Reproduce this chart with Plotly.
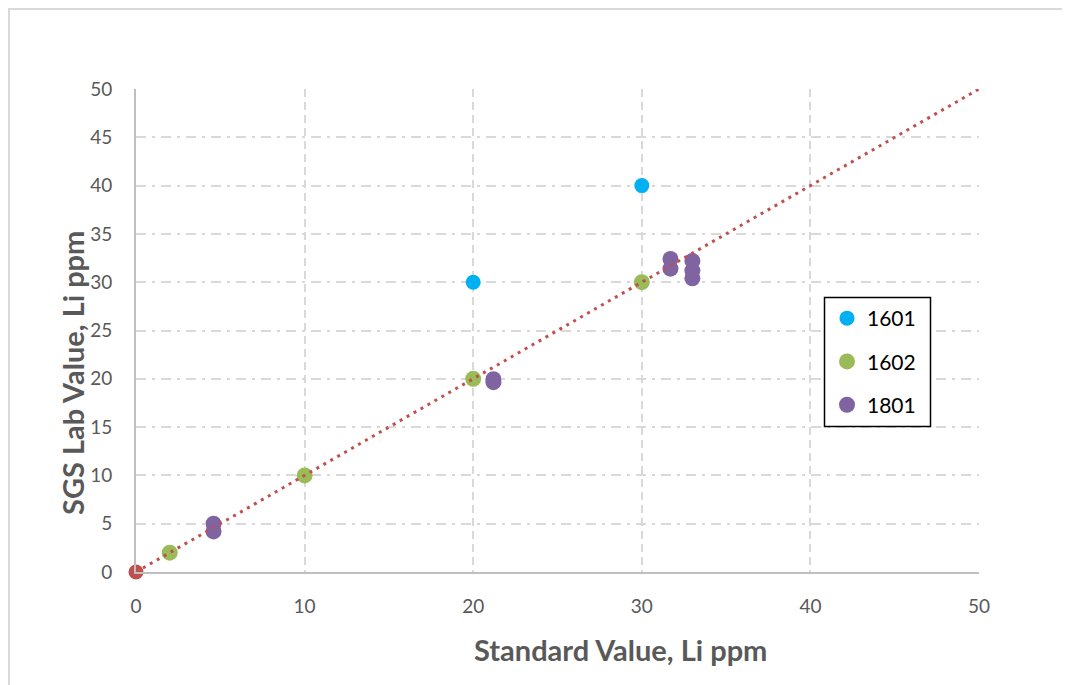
import plotly.graph_objects as go

# Data
s1601_x = [20, 30]
s1601_y = [30, 40]
s1602_x = [2, 10, 20, 30]
s1602_y = [2, 10, 20, 30]
s1801_x = [4.6, 4.6, 21.2, 21.2, 31.7, 31.7, 33.0, 33.0, 33.0]
s1801_y = [5.0, 4.2, 19.65, 19.95, 32.4, 31.4, 32.2, 31.2, 30.4]
line_x = [0, 50]
line_y = [0, 50]
origin_x = [0]
origin_y = [0]
x_title = "Standard Value, Li ppm"
y_title = "SGS Lab Value, Li ppm"

FONT = "Lato"
TXT = "#595959"

fig = go.Figure()
fig.add_trace(go.Scatter(x=s1601_x, y=s1601_y, mode="markers", name="1601", cliponaxis=False,
                         marker=dict(color="#00B0F0", size=15, line=dict(width=0)),
                         legendgroup="a"))
fig.add_trace(go.Scatter(x=s1602_x, y=s1602_y, mode="markers", name="1602", cliponaxis=False,
                         marker=dict(color="#9BBB59", size=16, line=dict(width=0)),
                         legendgroup="b"))
fig.add_trace(go.Scatter(x=s1801_x, y=s1801_y, mode="markers", name="1801", cliponaxis=False,
                         marker=dict(color="#8064A2", size=16, line=dict(width=0)),
                         legendgroup="c"))
fig.add_trace(go.Scatter(x=origin_x, y=origin_y, mode="markers", showlegend=False, cliponaxis=False,
                         marker=dict(color="#C0504D", size=15, line=dict(width=0))))
fig.add_trace(go.Scatter(x=line_x, y=line_y, mode="lines", showlegend=False,
                         line=dict(color="#C0504D", width=3, dash="3px,5px")))

# screen pixel layout (page body has an 8px margin)
OFF = 8
L, R, T, B = 136, 979, 89, 572
W, H = 1070 - OFF, 685 - OFF
pw, ph = R - L, B - T

def px2x(p):
    return (p - L) / pw

def py2y(p):
    return (B - p) / ph

fig.update_layout(
    width=W, height=H,
    margin=dict(l=L - OFF, r=W - (R - OFF), t=T - OFF, b=H - (B - OFF), autoexpand=False),
    paper_bgcolor="white", plot_bgcolor="white",
    font=dict(family=FONT, color=TXT, size=18),
    showlegend=True,
    legend=dict(x=px2x(827), y=py2y(298), xanchor="left", yanchor="top",
                borderwidth=0, bgcolor="rgba(0,0,0,0)",
                font=dict(family=FONT, size=21, color="black"),
                tracegroupgap=13, traceorder="grouped",
                itemwidth=30),
    xaxis=dict(range=[0, 50], dtick=10, showline=True, linecolor="#BFBFBF", linewidth=2,
               showgrid=True, gridcolor="#D9D9D9", gridwidth=2, griddash="8px,5px",
               zeroline=False, ticks="", ticklabelstandoff=16,
               tickfont=dict(family=FONT, size=19, color=TXT)),
    yaxis=dict(range=[0, 50], dtick=5, showline=True, linecolor="#BFBFBF", linewidth=2,
               showgrid=True, gridcolor="#D9D9D9", gridwidth=2, griddash="10px,6px,3px,6px",
               zeroline=False, ticks="", ticklabelstandoff=18,
               tickfont=dict(family=FONT, size=19, color=TXT)),
    annotations=[
        dict(text="<b>" + x_title + "</b>", xref="paper", yref="paper",
             x=px2x(620), y=py2y(649), xanchor="center", yanchor="middle",
             showarrow=False, font=dict(family=FONT, size=29, color=TXT)),
        dict(text="<b>" + y_title + "</b>", xref="paper", yref="paper", textangle=-90,
             x=px2x(72), y=py2y(373), xanchor="center", yanchor="middle",
             showarrow=False, font=dict(family=FONT, size=29, color=TXT)),
    ],
    shapes=[
        dict(type="rect", xref="paper", yref="paper",
             x0=px2x(9), x1=px2x(1200), y0=py2y(800), y1=py2y(9),
             line=dict(color="#D9D9D9", width=2), fillcolor="rgba(0,0,0,0)",
             layer="below"),
        dict(type="rect", xref="paper", yref="paper",
             x0=px2x(824.5), x1=px2x(930.5), y0=py2y(426.5), y1=py2y(297.5),
             line=dict(color="black", width=1.5), fillcolor="white",
             layer="above"),
    ],
)

fig.write_html("out.html", config={"displayModeBar": False})
